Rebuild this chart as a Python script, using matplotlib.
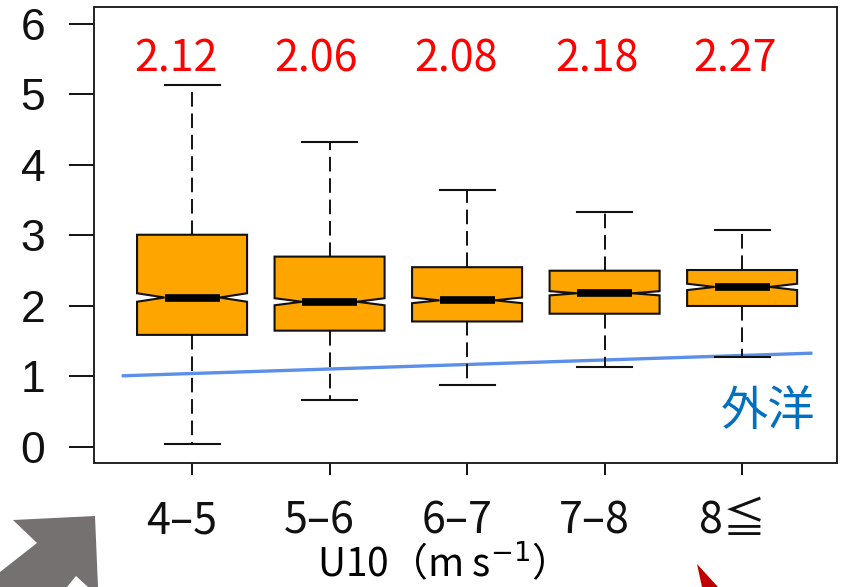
import matplotlib
matplotlib.use("Agg")
import matplotlib.pyplot as plt
from matplotlib.patches import Polygon
from matplotlib.transforms import ScaledTranslation

# ---- data ----
categories = ["4–5", "5–6", "6–7", "7–8", "8≦"]
medians = [2.12, 2.06, 2.08, 2.18, 2.27]
q1 = [1.59, 1.65, 1.78, 1.89, 2.00]
q3 = [3.01, 2.70, 2.55, 2.50, 2.51]
whis_lo = [0.04, 0.67, 0.88, 1.13, 1.28]
whis_hi = [5.13, 4.32, 3.65, 3.33, 3.08]
notch_half = [0.06, 0.05, 0.04, 0.03, 0.045]
median_labels = ["2.12", "2.06", "2.08", "2.18", "2.27"]
ocean_u10 = [4.0, 9.0]
ocean_val = [1.01, 1.33]
yticks = [0, 1, 2, 3, 4, 5, 6]

W, H = 846, 587
fig = plt.figure(figsize=(W / 100, H / 100), dpi=100)
ax = fig.add_axes([94 / W, 1 - 463 / H, (837 - 94) / W, (463 - 7) / H])

jp = ["Noto Sans CJK JP", "DejaVu Sans"]

positions = list(range(1, len(categories) + 1))
stats = []
for i in range(len(categories)):
    stats.append(dict(med=medians[i], q1=q1[i], q3=q3[i],
                      whislo=whis_lo[i], whishi=whis_hi[i],
                      cilo=medians[i] - notch_half[i], cihi=medians[i] + notch_half[i],
                      fliers=[], label=categories[i]))

ax.bxp(stats, positions=positions, widths=0.8, shownotches=True, patch_artist=True,
       showfliers=False,
       boxprops=dict(facecolor="#FFA500", edgecolor="#111111", linewidth=1.5),
       medianprops=dict(color="black", linewidth=5.5, solid_capstyle="butt"),
       whiskerprops=dict(color="#111111", linewidth=1.4, linestyle=(0, (7.5, 3.5))),
       capprops=dict(color="#111111", linewidth=1.5))

# open ocean line
ox = [u - 3.5 for u in ocean_u10]
ax.plot(ox, ocean_val, color="#5B8FE8", linewidth=2.4, zorder=1)
ax.text(5.19, 0.50, "外洋", color="#0070C0", fontsize=34, family=jp,
        ha="center", va="center")

# median labels
lab_off = [-16, -14, -11, -8, -7]
for p, t, o in zip(positions, median_labels, lab_off):
    ax.annotate(t, xy=(p, 5.49), xytext=(o * 0.72, 0), textcoords="offset points",
                color="red", fontsize=31, family=jp, ha="center", va="center")

ax.set_xlim(0.287, 5.69)
ax.set_ylim(-0.227, 6.24)

ax.set_yticks(yticks)
ax.set_yticklabels([str(v) for v in yticks], fontsize=32, family="Liberation Sans")
ax.tick_params(axis="y", length=18, width=1.4, pad=17, colors="#111111")
ax.set_xticks(positions)
ax.set_xticklabels(categories, fontsize=31, family=jp)
ax.tick_params(axis="x", length=8.6, width=1.4, pad=17.5, colors="#111111")
for lab in ax.get_xticklabels():
    lab.set_transform(lab.get_transform() + ScaledTranslation(-0.10, 0, fig.dpi_scale_trans))
for s in ax.spines.values():
    s.set_linewidth(1.4)
    s.set_color("#222222")

fig.text(431 / W, 1 - 564 / H, "U10（m s$^{-1}$）", fontsize=28, family=jp,
         ha="center", va="center")

# decorative arrows from the slide
def px(pts):
    return [(x / W, 1 - y / H) for x, y in pts]

gray = [(13, 520), (95, 516), (98, 587), (88, 587), (76, 576), (67, 587),
        (0, 587), (0, 572), (37, 543)]
fig.patches.append(Polygon(px(gray), closed=True, transform=fig.transFigure,
                           facecolor="#767171", edgecolor="none"))
red = [(697, 564), (718, 587), (702, 587)]
fig.patches.append(Polygon(px(red), closed=True, transform=fig.transFigure,
                           facecolor="#C00000", edgecolor="none"))

fig.savefig("out.png", dpi=100)
